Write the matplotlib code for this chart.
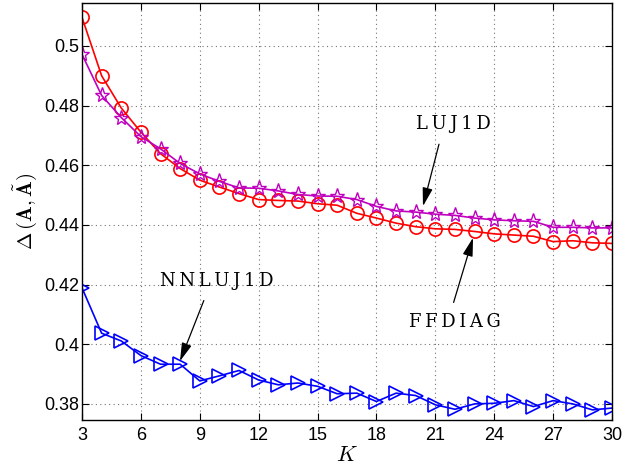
import matplotlib
matplotlib.use("Agg")
import numpy as np
import matplotlib.pyplot as plt

plt.rcParams['mathtext.fontset'] = 'cm'

K = list(range(3, 31))

ffdiag = [0.5096, 0.490, 0.4792, 0.4711, 0.4639, 0.4589, 0.4550, 0.4527,
          0.4505, 0.4485, 0.4482, 0.4480, 0.4471, 0.4466, 0.4439, 0.4423,
          0.4406, 0.4394, 0.4387, 0.4385, 0.4378, 0.4370, 0.4366, 0.4362,
          0.4344, 0.4347, 0.4340, 0.4338]
luj1d = [0.4972, 0.4834, 0.4760, 0.4696, 0.4655, 0.4606, 0.4571, 0.4546,
         0.4524, 0.4523, 0.4514, 0.4502, 0.4497, 0.4496, 0.4485, 0.4462,
         0.4447, 0.4443, 0.4436, 0.4432, 0.4423, 0.4417, 0.4414, 0.4412,
         0.4392, 0.4392, 0.4390, 0.4390]
nnluj1d = [0.4189, 0.4037, 0.4011, 0.3962, 0.3933, 0.3933, 0.3877, 0.3894,
           0.3912, 0.3880, 0.3864, 0.3870, 0.3859, 0.3834, 0.3836, 0.3808,
           0.3836, 0.3828, 0.3797, 0.3782, 0.3800, 0.3802, 0.3811, 0.3791,
           0.3811, 0.3800, 0.3780, 0.3786]

xticks = list(range(3, 31, 3))
yticks = [0.38, 0.40, 0.42, 0.44, 0.46, 0.48, 0.50]
ytick_labels = ['0.38', '0.4', '0.42', '0.44', '0.46', '0.48', '0.5']

fig = plt.figure(figsize=(6.34, 4.67), dpi=100)
ax = fig.add_axes([82/634, 47/467, 530/634, 417/467])

ax.plot(K, nnluj1d, color='blue', lw=1.2, marker='>', ms=10, mfc='none', mew=1.2)
ax.plot(K, ffdiag, color='red', lw=1.2, marker='o', ms=9.5, mfc='none', mew=1.2)
ax.plot(K, luj1d, color=(0.75, 0, 0.75), lw=1.2, marker='*', ms=11, mfc='none', mew=1.0)

ax.set_xlim(3, 30)
ax.set_ylim(0.3746, 0.5144)
ax.set_xticks(xticks)
ax.set_yticks(yticks)
ax.set_yticklabels(ytick_labels)
ax.tick_params(direction='in', top=True, right=True, labelsize=13, length=5)
ax.tick_params(axis='x', pad=5)
ax.tick_params(axis='y', pad=2)
for lab in ax.get_xticklabels() + ax.get_yticklabels():
    lab.set_family('Liberation Sans')
ax.grid(True, linestyle=(0, (1, 3)), color='0.45', lw=0.8)
for s in ax.spines.values():
    s.set_linewidth(1.0)

ax.set_xlabel(r'$K$', fontsize=16, labelpad=1)
ax.set_ylabel(r'$\Delta\,(\mathbf{A},\tilde{\mathbf{A}})$', fontsize=15, labelpad=4)

sp = '\u2009'
tfont = dict(family='DejaVu Serif', fontsize=13, ha='center', va='center')
arr = dict(arrowstyle='-|>,head_width=0.22,head_length=0.8', color='black',
           lw=0.9, mutation_scale=14, shrinkA=6, shrinkB=0)
ax.annotate(sp.join('LUJ1D'), xy=(20.37, 0.4463), xytext=(21.9, 0.4737),
            arrowprops=dict(arr, relpos=(0.35, 0.0)), **tfont)
ax.annotate(sp.join('FFDIAG'), xy=(22.92, 0.4357), xytext=(22.0, 0.4074),
            arrowprops=dict(arr, relpos=(0.45, 1.0)), **tfont)
ax.annotate(sp.join('NNLUJ1D'), xy=(7.99, 0.3943), xytext=(9.88, 0.4212),
            arrowprops=dict(arr, relpos=(0.42, 0.0)), **tfont)

plt.savefig('out.png', dpi=100)
